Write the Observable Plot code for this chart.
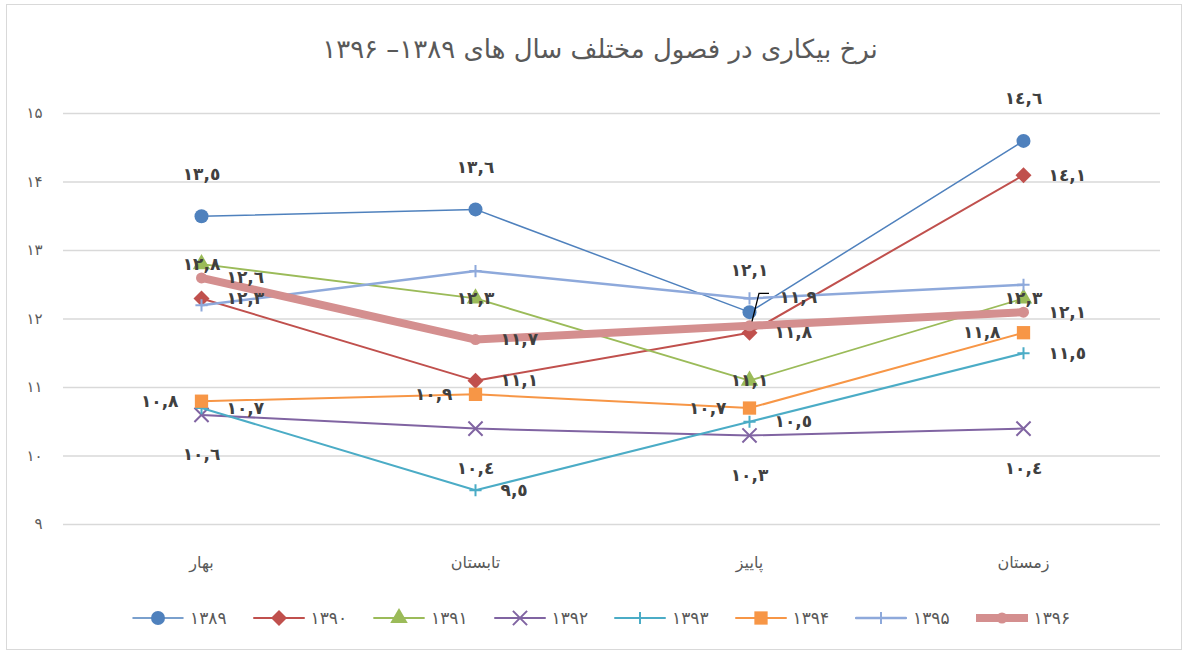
<!DOCTYPE html>
<html><head><meta charset="utf-8">
<script src="https://cdn.jsdelivr.net/npm/d3@7"></script>
<script src="https://cdn.jsdelivr.net/npm/@observablehq/plot@0.6"></script>
<style>
body{margin:0;background:#fff;font-family:"DejaVu Sans",sans-serif;}
#frame{position:absolute;left:6px;top:4px;width:1176px;height:646px;border:1px solid #d9d9d9;box-sizing:border-box}
#title{position:absolute;top:34px;left:0;width:1200px;text-align:center;font-size:26px;color:#595959;direction:rtl}
#chart{position:absolute;top:80px;left:0}
#legend{position:absolute;top:607px;left:0;width:1186px;height:22px}
.item{position:absolute;top:0;display:flex;align-items:center;height:22px;font-size:17px;color:#595959}
.item span{margin-left:6px}
</style>
</head><body>
<div id="frame"></div>
<div id="title">نرخ بیکاری در فصول مختلف سال های ۱۳۸۹– ۱۳۹۶</div>
<div id="chart"></div>
<div id="legend"></div>
<script>
const seasons = ["بهار", "تابستان", "پاییز", "زمستان"];
const years = ["۱۳۸۹", "۱۳۹۰", "۱۳۹۱", "۱۳۹۲", "۱۳۹۳", "۱۳۹۴", "۱۳۹۵", "۱۳۹۶"];
const v1389 = [13.5, 13.6, 12.1, 14.6];
const v1390 = [12.3, 11.1, 11.8, 14.1];
const v1391 = [12.8, 12.3, 11.1, 12.3];
const v1392 = [10.6, 10.4, 10.3, 10.4];
const v1393 = [10.7, 9.5, 10.5, 11.5];
const v1394 = [10.8, 10.9, 10.7, 11.8];
const v1395 = [12.2, 12.7, 12.3, 12.5];
const v1396 = [12.6, 11.7, 11.9, 12.1];
const yTicks = [9, 10, 11, 12, 13, 14, 15];

const values = [v1389, v1390, v1391, v1392, v1393, v1394, v1395, v1396];
const colors = ["#4F81BD", "#C0504D", "#9BBB59", "#8064A2", "#4BACC6", "#F79646", "#8EA9DB", "#D48F8F"];
const widths = [1.5, 2, 1.8, 2, 2, 2, 2.5, 8];
const symbols = ["circle", "diamond2", "triangle", "times", "plus", "square", "plus", "circle"];
const radii = [7, 7.2, 6.5, 6.5, 4, 7.5, 4, 5.5];
const labelPos = ["top", "right", "center", "bottom", "right", "left", null, "right"];

const toFa = n => String(n).replace(/\d/g, d => "۰۱۲۳۴۵۶۷۸۹"[d]);
const toAr = v => v.toFixed(1).replace(".", ",").replace(/\d/g, d => "٠١٢٣٤٥٦٧٨٩"[d]);

const series = years.map((yr, i) => seasons.map((s, j) => ({year: yr, season: s, value: values[i][j], j})));

const marks = [Plot.ruleY(yTicks, {stroke: "#d9d9d9", strokeWidth: 1.3})];
series.forEach((rows, i) => {
  marks.push(Plot.line(rows, {x: "season", y: "value", stroke: colors[i], strokeWidth: widths[i], strokeLinejoin: "round", strokeLinecap: "round"}));
  const stroked = symbols[i] === "times" || symbols[i] === "plus";
  marks.push(Plot.dot(rows, {x: "season", y: "value", symbol: symbols[i], r: radii[i],
    fill: stroked ? "none" : colors[i], stroke: stroked ? colors[i] : "none", strokeWidth: stroked ? 2 : 0}));
});
const textOpts = {fill: "#404040", fontWeight: "bold", fontSize: 17, fontFamily: "DejaVu Sans"};
series.forEach((rows, i) => {
  const p = labelPos[i];
  if (!p) return;
  let o = {};
  if (p === "top") o = {dy: -42};
  else if (p === "bottom") o = {dy: 40};
  else if (p === "right") o = {dx: 25, textAnchor: "start"};
  else if (p === "left") o = {dx: -23, textAnchor: "end"};
  let data = rows;
  if (i === 7) {
    data = rows.filter(d => d.j !== 2);
    marks.push(Plot.text(rows.filter(d => d.j === 2), {x: "season", y: "value", text: d => toAr(d.value), dx: 30, dy: -28, textAnchor: "start", ...textOpts}));
  }
  marks.push(Plot.text(data, {x: "season", y: "value", text: d => toAr(d.value), ...o, ...textOpts}));
});
marks.push(Plot.axisY(yTicks, {tickSize: 0, tickPadding: 21, tickFormat: toFa, fontSize: 15, fill: "#595959"}));
marks.push(Plot.axisX({tickSize: 0, tickPadding: 32, fontSize: 16, fill: "#595959"}));

const chart = Plot.plot({
  width: 1186, height: 505,
  marginLeft: 63, marginRight: 26, marginTop: 33, marginBottom: 61,
  style: {fontFamily: "DejaVu Sans", background: "transparent", color: "#595959"},
  x: {type: "point", domain: seasons, padding: 0.5, label: null},
  y: {domain: [9, 15], label: null},
  marks
});
document.getElementById("chart").appendChild(chart);

// leader line for the moved label (1396, پاییز), positioned through the plot's scales
{
  const px = chart.scale("x").apply(seasons[2]);
  const py = chart.scale("y").apply(v1396[2]);
  d3.select(chart).append("path")
    .attr("d", `M${px + 3},${py - 4}L${px + 10},${py - 32}H${px + 20}`)
    .attr("fill", "none").attr("stroke", "#000").attr("stroke-width", 1.3);
}

// legend
const legend = document.getElementById("legend");
const symMap = {circle: d3.symbolCircle, diamond2: d3.symbolDiamond2, triangle: d3.symbolTriangle, times: d3.symbolTimes, plus: d3.symbolPlus, square: d3.symbolSquare};
years.forEach((yr, i) => {
  const div = document.createElement("div");
  div.className = "item";
  div.style.left = (132 + i * 120.5) + "px";
  const svg = d3.create("svg").attr("width", 52).attr("height", 22);
  svg.append("line").attr("x1", 1).attr("x2", 51).attr("y1", 11).attr("y2", 11)
    .attr("stroke", colors[i]).attr("stroke-width", widths[i]).attr("stroke-linecap", "round");
  const stroked = symbols[i] === "times" || symbols[i] === "plus";
  svg.append("path").attr("transform", "translate(26,11)")
    .attr("d", d3.symbol(symMap[symbols[i]], Math.PI * radii[i] * radii[i])())
    .attr("fill", stroked ? "none" : colors[i]).attr("stroke", stroked ? colors[i] : "none").attr("stroke-width", 2);
  div.appendChild(svg.node());
  const sp = document.createElement("span");
  sp.textContent = yr;
  div.appendChild(sp);
  legend.appendChild(div);
});
</script>
</body></html>
